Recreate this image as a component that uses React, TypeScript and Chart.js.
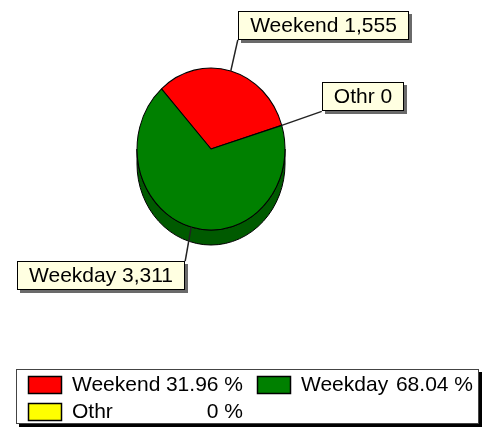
import { useEffect, useRef } from 'react';
import { Chart, registerables } from 'chart.js';

Chart.register(...registerables);

// ---- data ----
const categories = ['Weekend', 'Weekday', 'Othr'];
const values = [1555, 3311, 0];
// clockwise drawing order of the slices, starting at the rotation angle
const drawOrder = [0, 2, 1];

// ---- style ----
const faceColors = ['#ff0000', '#008000', '#ffff00'];
const sideColors = ['#b80000', '#005a00', '#b8b800'];
const FONT = '21px "Liberation Sans", Arial, sans-serif';
const SQUASH = 81 / 74;
const DEPTH = 15;
const ROTATION = -42;

const total = values.reduce((a, b) => a + b, 0);
const percentLabels = values.map((v) =>
  v === 0 ? '0 %' : ((v / total) * 100).toFixed(2) + ' %'
);
const valueLabels = values.map((v) => v.toLocaleString('en-US'));

// callout placement relative to the slice anchor point (layout only)
const callouts = [
  { dx: 7, dy: -31, corner: 'bl' },
  { dx: -6, dy: 34, corner: 'tr' },
  { dx: 40, dy: -14, corner: 'bl' },
];

function bottomIntervals(s: number, e: number) {
  const res: [number, number][] = [];
  for (let k = -2; k <= 2; k++) {
    const lo = k * 2 * Math.PI;
    const hi = lo + Math.PI;
    const a = Math.max(s, lo);
    const b = Math.min(e, hi);
    if (b > a) res.push([a, b]);
  }
  return res;
}

const pie3d = {
  id: 'pie3d',
  beforeDatasetsDraw(chart: any) {
    const ctx = chart.ctx;
    const arcs = chart.getDatasetMeta(0).data;
    if (arcs.length) {
      const cx = arcs[0].x;
      const cy = arcs[0].y;
      const r = arcs[0].outerRadius;
      const ry = r * SQUASH;
      arcs.forEach((arc: any, i: number) => {
        const cat = drawOrder[i];
        bottomIntervals(arc.startAngle, arc.endAngle).forEach(([a, b]) => {
          ctx.beginPath();
          ctx.ellipse(cx, cy, r, ry, 0, a, b);
          ctx.ellipse(cx, cy + DEPTH, r, ry, 0, b, a, true);
          ctx.closePath();
          ctx.fillStyle = sideColors[cat];
          ctx.fill();
          ctx.lineWidth = 1;
          ctx.strokeStyle = '#000';
          ctx.stroke();
        });
      });
      ctx.save();
      ctx.translate(cx, cy);
      ctx.scale(1, SQUASH);
      ctx.translate(-cx, -cy);
    } else {
      ctx.save();
    }
  },
  afterDatasetsDraw(chart: any) {
    const ctx = chart.ctx;
    ctx.restore();
    const arcs = chart.getDatasetMeta(0).data;
    ctx.save();
    ctx.font = FONT;
    ctx.textBaseline = 'middle';
    arcs.forEach((arc: any, i: number) => {
      const cat = drawOrder[i];
      const mid = (arc.startAngle + arc.endAngle) / 2;
      const ax = arc.x + arc.outerRadius * Math.cos(mid);
      const ay = arc.y + arc.outerRadius * SQUASH * Math.sin(mid);
      const spec = callouts[cat];
      const ex = ax + spec.dx;
      const ey = ay + spec.dy;
      // leader line
      ctx.beginPath();
      ctx.moveTo(ax, ay);
      ctx.lineTo(ex, ey);
      ctx.lineWidth = 1.5;
      ctx.strokeStyle = '#222';
      ctx.stroke();
      // box
      const text = categories[cat] + ' ' + valueLabels[cat];
      const w = Math.round(ctx.measureText(text).width + 24);
      const h = 29;
      let bx = ex;
      let by = ey;
      if (spec.corner === 'bl') by = ey - h;
      if (spec.corner === 'tr') bx = ex - w;
      bx = Math.round(bx);
      by = Math.round(by);
      ctx.fillStyle = '#6a6a6a';
      ctx.fillRect(bx + 3, by + 3, w, h);
      ctx.fillStyle = '#ffffe1';
      ctx.fillRect(bx, by, w, h);
      ctx.lineWidth = 1;
      ctx.strokeStyle = '#000';
      ctx.strokeRect(bx + 0.5, by + 0.5, w - 1, h - 1);
      ctx.fillStyle = '#000';
      ctx.textAlign = 'center';
      ctx.fillText(text, bx + w / 2, by + h / 2 + 1);
    });
    ctx.restore();
  },
  afterDraw(chart: any) {
    const ctx = chart.ctx;
    ctx.save();
    // legend frame
    const lx = 16, ly = 369, lw = 463, lh = 55;
    ctx.fillStyle = '#000';
    ctx.fillRect(lx + 3, ly + 3, lw, lh);
    ctx.fillStyle = '#fff';
    ctx.fillRect(lx, ly, lw, lh);
    ctx.strokeStyle = '#444';
    ctx.lineWidth = 1;
    ctx.strokeRect(lx + 0.5, ly + 0.5, lw - 1, lh - 1);
    ctx.font = FONT;
    ctx.textBaseline = 'middle';
    const cols = [28, 257];
    const pctRight = [243, 473];
    const rows = [385, 412];
    categories.forEach((name, i) => {
      const col = i % 2;
      const row = Math.floor(i / 2);
      const sx = cols[col];
      const sy = rows[row] - 9;
      ctx.fillStyle = faceColors[i];
      ctx.fillRect(sx, sy, 34, 18);
      ctx.strokeStyle = '#000';
      ctx.lineWidth = 1.5;
      ctx.strokeRect(sx + 0.5, sy + 0.5, 33, 17);
      ctx.fillStyle = '#000';
      ctx.textAlign = 'left';
      ctx.fillText(name, sx + 44, rows[row]);
      ctx.textAlign = 'right';
      ctx.fillText(percentLabels[i], pctRight[col], rows[row]);
    });
    ctx.restore();
  },
};

export default function App() {
  const ref = useRef<HTMLCanvasElement>(null);
  useEffect(() => {
    if (!ref.current) return;
    const chart = new Chart(ref.current, {
      type: 'pie',
      data: {
        labels: drawOrder.map((i) => categories[i]),
        datasets: [
          {
            data: drawOrder.map((i) => values[i]),
            backgroundColor: drawOrder.map((i) => faceColors[i]),
            borderColor: '#000',
            borderWidth: 1,
            radius: 74,
            clip: false,
          } as any,
        ],
      },
      options: {
        responsive: false,
        animation: false,
        events: [],
        rotation: ROTATION,
        layout: { padding: { left: 0, right: 62, top: 0, bottom: 133 } },
        plugins: {
          legend: { display: false },
          tooltip: { enabled: false },
          title: { display: false },
        },
      },
      plugins: [pie3d],
    });
    return () => chart.destroy();
  }, []);
  return (
    <div style={{ position: 'absolute', left: 0, top: 0, width: 484, height: 431, background: '#fff' }}>
      <canvas ref={ref} width={484} height={431} style={{ display: 'block' }} />
    </div>
  );
}
